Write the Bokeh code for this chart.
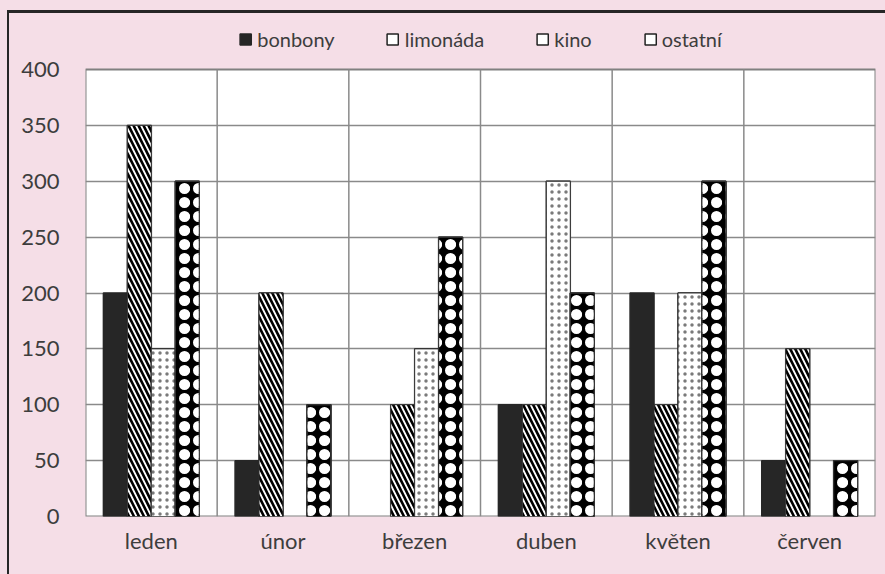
from bokeh.plotting import figure
from bokeh.models import Range1d, FixedTicker, Legend, LegendItem
from bokeh.layouts import column
from bokeh.embed import file_html
from bokeh.resources import INLINE

# ---- data ----
months = ["leden", "únor", "březen", "duben", "květen", "červen"]
series_names = ["bonbony", "limonáda", "kino", "ostatní"]
bonbony = [200, 50, 0, 100, 200, 50]
limonada = [350, 200, 100, 100, 100, 150]
kino = [150, 0, 150, 300, 200, 0]
ostatni = [300, 100, 250, 200, 300, 50]
y_ticks = [0, 50, 100, 150, 200, 250, 300, 350, 400]

FONT = "Lato"
TEXT = "#3d3d3d"
PINK = "#F5DEE7"
DARK = "#262626"
GRID = "#8a8a8a"

W, H = 877, 561
Y_MAX = y_ticks[-1]
# frame spans from canvas top to plot bottom; the white plot area occupies 0..Y_MAX
Y_TOP = Y_MAX * (503.0 / 447.0)
n = len(months)
p = figure(width=W, height=H, output_backend="svg", toolbar_location=None,
           x_range=Range1d(-0.5, n - 0.5), y_range=Range1d(0, Y_TOP),
           min_border_left=76, min_border_right=10, min_border_top=0, min_border_bottom=58)
p.background_fill_color = PINK
p.border_fill_color = PINK
p.outline_line_color = None

# white plot area with gray outline
p.quad(left=[-0.5], right=[n - 0.5], bottom=[0], top=[Y_MAX],
       fill_color="white", line_color="#808080", line_width=2, level="image")

# axes
p.xaxis.ticker = FixedTicker(ticks=list(range(n)))
p.xaxis.major_label_overrides = {i: m for i, m in enumerate(months)}
p.yaxis.ticker = FixedTicker(ticks=y_ticks)
for ax in (p.xaxis[0], p.yaxis[0]):
    ax.axis_line_color = None
    ax.major_tick_line_color = None
    ax.minor_tick_line_color = None
    ax.major_label_text_font = FONT
    ax.major_label_text_color = TEXT
p.yaxis.major_label_text_font_size = "22px"
p.xaxis.major_label_text_font_size = "22px"
p.yaxis.major_label_standoff = 20
p.xaxis.major_label_standoff = 4

# grids: horizontal via Grid, vertical category separators via segments inside the plot area
p.xgrid.visible = False
p.ygrid.ticker = FixedTicker(ticks=y_ticks[1:-1])
p.ygrid.grid_line_color = GRID
p.ygrid.grid_line_width = 1.5
bounds = [i + 0.5 for i in range(n - 1)]
p.segment(x0=bounds, y0=[0] * len(bounds), x1=bounds, y1=[Y_MAX] * len(bounds),
          line_color=GRID, line_width=1.5)

bw = 0.182
offsets = [-1.5 * bw, -0.5 * bw, 0.5 * bw, 1.5 * bw]
series = [bonbony, limonada, kino, ostatni]
base_styles = [dict(fill_color=DARK, line_color=DARK),
               dict(fill_color="white", line_color="#222222"),
               dict(fill_color="white", line_color="#222222"),
               dict(fill_color="white", line_color="#222222")]
hatch_layers = [
    [],
    [dict(fill_color="white", hatch_pattern="\\", hatch_color="black", hatch_scale=10, hatch_weight=2.6,
          line_color="#333333")],
    [dict(fill_color="white", hatch_pattern=".", hatch_color="#7a7a7a", hatch_scale=7, hatch_weight=1,
          line_color="#333333")],
    [dict(fill_color="black", hatch_pattern="o", hatch_color="white", hatch_scale=14, hatch_weight=4,
          line_color="#333333"),
     dict(fill_alpha=0, hatch_pattern=".", hatch_color="white", hatch_scale=14, hatch_weight=1,
          line_color="#333333")],
]
items = []
for name, vals, off, bst, layers in zip(series_names, series, offsets, base_styles, hatch_layers):
    xs = [i + off for i, v in enumerate(vals) if v > 0]
    tops = [v for v in vals if v > 0]
    base = p.vbar(x=xs, top=tops, bottom=0, width=bw, line_width=1.5, **bst)
    items.append(LegendItem(label=name, renderers=[base]))
    for hst in layers:
        p.vbar(x=xs, top=tops, bottom=0, width=bw, line_width=1, **hst)

legend = Legend(items=items, orientation="horizontal", location="top_center",
                glyph_width=14, glyph_height=14, label_standoff=5, spacing=51,
                padding=0, margin=14, border_line_color=None, background_fill_alpha=0,
                label_text_font=FONT, label_text_font_size="20px", label_text_color=TEXT)
p.add_layout(legend, "center")

inner = column(p, styles={"border-left": "2px solid " + DARK, "border-top": "3px solid " + DARK,
                          "background-color": PINK})
outer = column(inner, styles={"background-color": PINK, "padding-left": "7px", "padding-top": "10px",
                              "width": "885px", "height": "574px", "overflow": "hidden",
                              "box-sizing": "border-box", "position": "fixed", "top": "0px",
                              "left": "0px"})

open("out.html", "w").write(file_html(outer, INLINE))
